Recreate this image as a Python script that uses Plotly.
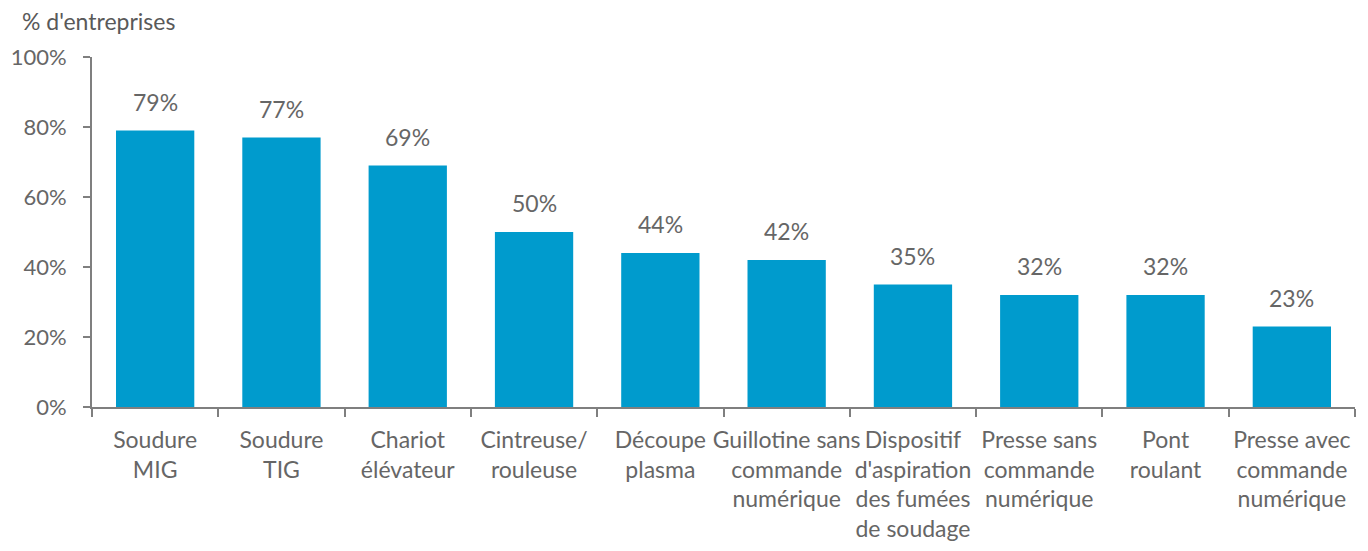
import plotly.graph_objects as go

categories = [
    "Soudure<br>MIG",
    "Soudure<br>TIG",
    "Chariot<br>élévateur",
    "Cintreuse/<br>rouleuse",
    "Découpe<br>plasma",
    "Guillotine sans<br>commande<br>numérique",
    "Dispositif<br>d'aspiration<br>des fumées<br>de soudage",
    "Presse sans<br>commande<br>numérique",
    "Pont<br>roulant",
    "Presse avec<br>commande<br>numérique",
]
values = [79, 77, 69, 50, 44, 42, 35, 32, 32, 23]
y_ticks = [0, 20, 40, 60, 80, 100]
y_tick_labels = ["0%", "20%", "40%", "60%", "80%", "100%"]

FONT = "Lato"
GREY = "#666666"
AXIS = "#7f7f7f"
BAR = "#009BCD"

W, H = 1352, 535
ML, MR, MT, MB = 84, 5, 49, 136

fig = go.Figure()
fig.add_trace(go.Bar(
    x=categories,
    y=values,
    marker=dict(color=BAR, line=dict(width=0)),
    width=0.62,
    hoverinfo="skip",
))

for c, v in zip(categories, values):
    fig.add_annotation(
        x=c, y=v, text=f"{v}%", showarrow=False,
        yanchor="bottom", yshift=13,
        font=dict(family=FONT, size=23, color=GREY),
    )

fig.add_annotation(
    xref="paper", yref="paper", x=(12 - ML) / (W - ML - MR), y=1,
    xanchor="left", yanchor="middle", yshift=36,
    text="% d'entreprises", showarrow=False,
    font=dict(family=FONT, size=23, color="#595959"),
)

fig.update_layout(
    width=W, height=H,
    margin=dict(l=ML, r=MR, t=MT, b=MB),
    paper_bgcolor="white", plot_bgcolor="white",
    showlegend=False,
    font=dict(family=FONT, color=GREY),
)
fig.update_xaxes(
    type="category",
    tickson="boundaries",
    showgrid=False, zeroline=False,
    showline=True, linecolor=AXIS, linewidth=2,
    ticks="outside", ticklen=8, tickcolor=AXIS, tickwidth=2,
    tickfont=dict(family=FONT, size=23, color=GREY),
    tickangle=0,
    ticklabelstandoff=11,
    automargin=False,
)
fig.update_yaxes(
    range=[0, 100],
    tickmode="array", tickvals=y_ticks, ticktext=y_tick_labels,
    showgrid=False, zeroline=False,
    showline=True, linecolor=AXIS, linewidth=2,
    ticks="outside", ticklen=7, tickcolor=AXIS, tickwidth=2,
    tickfont=dict(family=FONT, size=22, color=GREY),
    ticklabelstandoff=12,
    automargin=False,
)

fig.write_html("out.html")
